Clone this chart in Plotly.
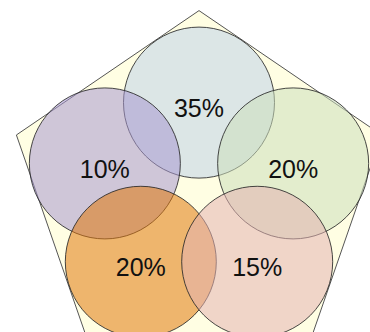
import math
import plotly.graph_objects as go

# Data
labels = ["35%", "10%", "20%", "20%", "15%"]
values = [35, 10, 20, 20, 15]
fill_colors = [
    "rgba(191,209,234,0.55)",
    "rgba(168,152,208,0.55)",
    "rgba(204,223,188,0.55)",
    "rgba(224,120,12,0.55)",
    "rgba(228,178,179,0.55)",
]

# Layout geometry (pixel-like coordinate space)
W, H = 370, 332
cx, cy = 199, 190.6
angles = [90, 162, 18, 234, 306]  # top, left, right, bottom-left, bottom-right
ring_dx, ring_dy = 99, 88
radius = 75.5
pent_sx, pent_sy = 192, 180

fig = go.Figure()
shapes = []

# pentagon
pts = []
for a in [90, 162, 234, 306, 18]:
    r = math.radians(a)
    pts.append((cx + pent_sx * math.cos(r), cy - pent_sy * math.sin(r)))
path = "M " + " L ".join(f"{x:.2f},{y:.2f}" for x, y in pts) + " Z"
shapes.append(dict(type="path", path=path, xref="x", yref="y", layer="below",
                   fillcolor="#fffee3", line=dict(color="#555555", width=1)))

centers = []
for a in angles:
    r = math.radians(a)
    centers.append((cx + ring_dx * math.cos(r), cy - ring_dy * math.sin(r)))

for (x, y), col in zip(centers, fill_colors):
    shapes.append(dict(type="circle", xref="x", yref="y", layer="below",
                       x0=x - radius, x1=x + radius, y0=y - radius, y1=y + radius,
                       fillcolor=col, line=dict(color="rgba(40,40,40,0.85)", width=1)))

fig.add_trace(go.Scatter(
    x=[c[0] for c in centers],
    y=[c[1] + 8 for c in centers],
    mode="text",
    text=[f"{v}%" for v in values],
    textfont=dict(family="Liberation Sans, Arial, sans-serif", size=25, color="#111111"),
    hoverinfo="skip",
    showlegend=False,
))

fig.update_layout(
    width=W, height=H,
    margin=dict(l=0, r=0, t=0, b=0),
    paper_bgcolor="white", plot_bgcolor="white",
    shapes=shapes,
    xaxis=dict(range=[0, W], visible=False, fixedrange=True),
    yaxis=dict(range=[H, 0], visible=False, fixedrange=True),
    showlegend=False,
)

fig.write_html("out.html")
